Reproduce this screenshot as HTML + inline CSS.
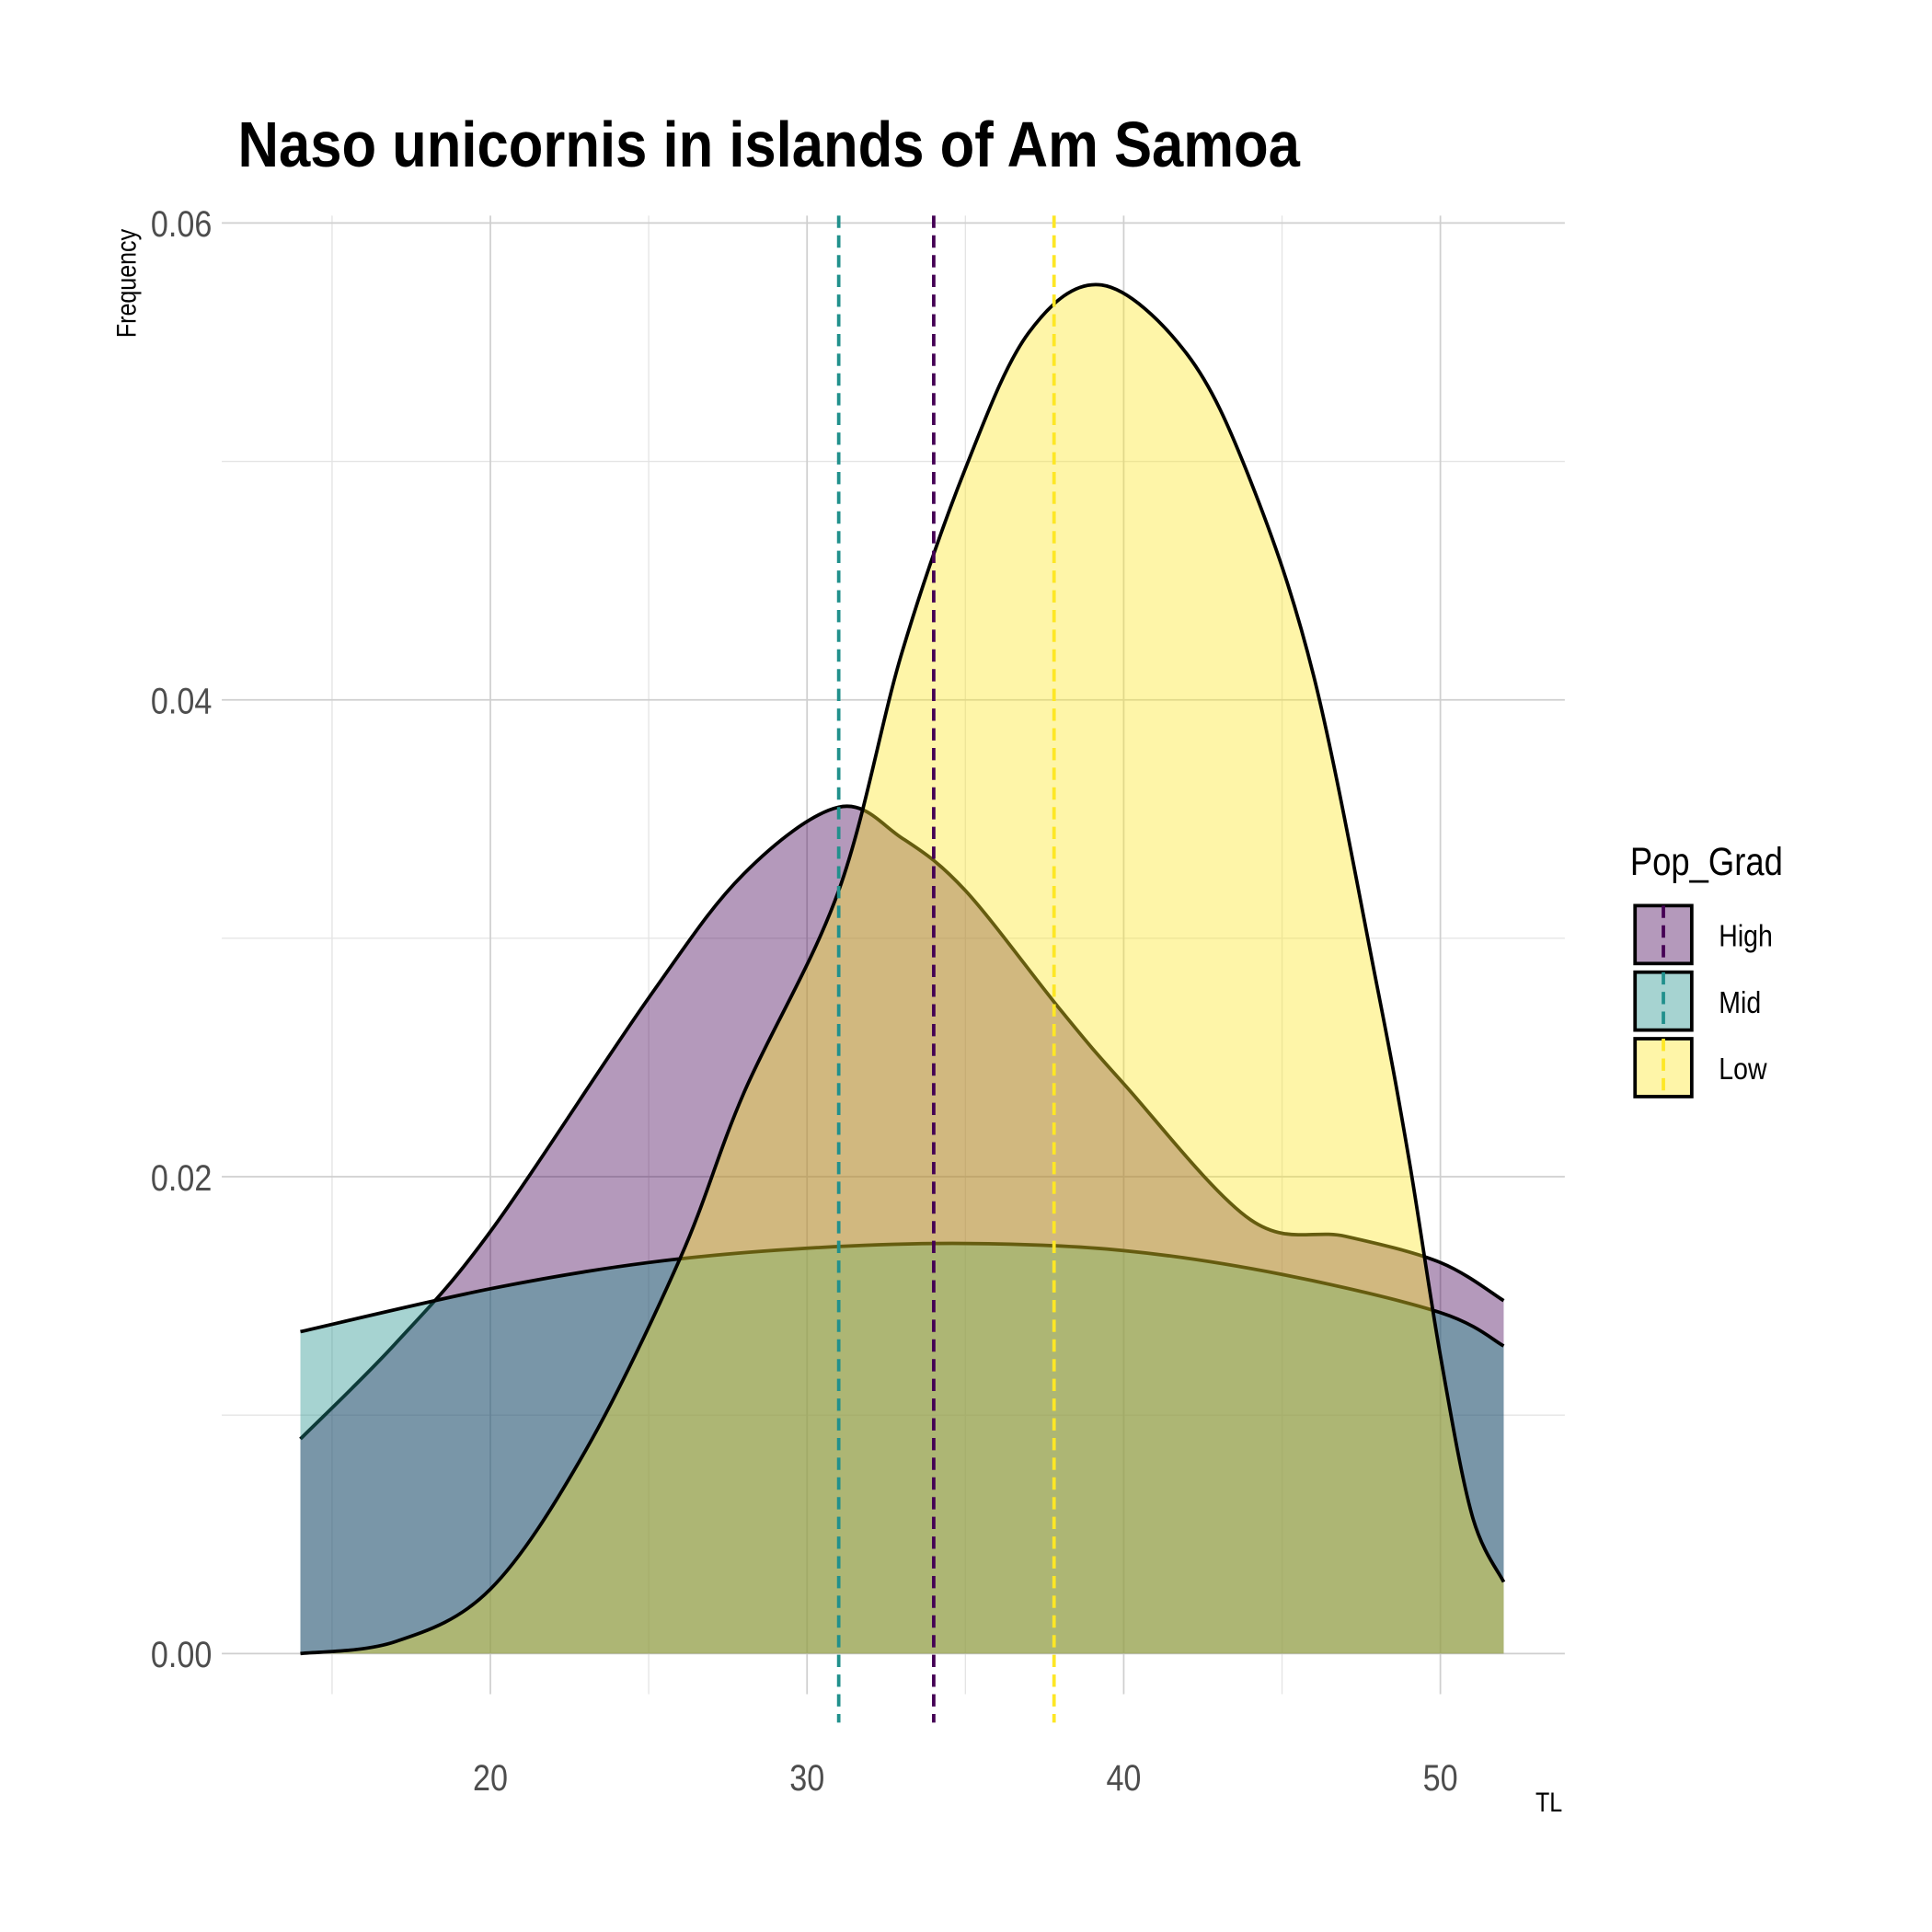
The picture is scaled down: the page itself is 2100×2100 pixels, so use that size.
<!DOCTYPE html>
<html><head><meta charset="utf-8"><style>
html,body{margin:0;padding:0;background:#fff}
svg{display:block}
text{font-family:"Liberation Sans Narrow","Liberation Sans",sans-serif}
</style></head><body>
<svg id="chart" width="2100" height="2100" viewBox="0 0 1568 1568" xmlns="http://www.w3.org/2000/svg">
<rect width="1568" height="1568" fill="#fff"/>
<g id="grid"></g>
<g id="areas"></g>
<g id="means"></g>
<g id="axes"></g>
<text x="193" y="135" font-size="52" font-weight="bold" fill="#000" textLength="862" lengthAdjust="spacingAndGlyphs">Naso unicornis in islands of Am Samoa</text>
<text transform="translate(110,230) rotate(-90) scale(0.85,1)" text-anchor="middle" font-size="22" fill="#000">Frequency</text>
<text transform="translate(1268,1470) scale(0.85,1)" text-anchor="end" font-size="22" fill="#000">TL</text>
<g id="legend">
<text transform="translate(1323,710) scale(0.85,1)" font-size="32" fill="#000">Pop_Grad</text>
</g>
</svg>
<script>
const groups = ["High","Mid","Low"];
const fills = ["#440154","#21908C","#FDE725"];
const highX = [14,17,20,25,28,31,33,35,38,40,44,47,50,52];
const highY = [0.0090,0.0130,0.0177,0.0275,0.0327,0.0355,0.0342,0.0320,0.0270,0.0239,0.0182,0.0175,0.0164,0.0148];
const midX = [14,20,25,30,35,40,45,50,52];
const midY = [0.0135,0.0153,0.0164,0.0170,0.0172,0.0169,0.0159,0.0143,0.0129];
const lowX = [14,17,20,23,26,28,31,33,35,37,39.3,42,44,46,48,49,50,51,52];
const lowY = [0,0.0005,0.0027,0.0085,0.0166,0.0235,0.032,0.042,0.0497,0.0554,0.0574,0.0545,0.0492,0.041,0.028,0.0208,0.0125,0.0058,0.003];
const means = [34.0,31.0,37.8];
const xTicks = [20,30,40,50];
const yTicks = [0,0.02,0.04,0.06];
const yTickLabels = ["0.00","0.02","0.04","0.06"];
const xMinor = [15,25,35,45];
const yMinor = [0.01,0.03,0.05];

const NS="http://www.w3.org/2000/svg";
const X = v => 398 + (v-20)*25.7;
const Y = v => 1342 - v*19350;
function mk(tag, attrs, parent){const e=document.createElementNS(NS,tag);for(const k in attrs)e.setAttribute(k,attrs[k]);parent.appendChild(e);return e;}
const grid=document.getElementById('grid'), axes=document.getElementById('axes');
const L=180,R=1270,T=175,B=1375;
xMinor.forEach(v=>{const l=mk('line',{x1:X(v),x2:X(v),y1:T,y2:B,stroke:'#e4e4e4','stroke-width':1},grid);
});
yMinor.forEach(v=>{const l=mk('line',{x1:L,x2:R,y1:Y(v),y2:Y(v),stroke:'#e4e4e4','stroke-width':1},grid);
});
xTicks.forEach(v=>{const l=mk('line',{x1:X(v),x2:X(v),y1:T,y2:B,stroke:'#cfcfcf','stroke-width':1.3},grid);

const t=mk('text',{transform:`translate(${X(v)},1453) scale(0.85,1)`,'text-anchor':'middle','font-size':30,fill:'#4d4d4d'},axes);t.textContent=v;
});
yTicks.forEach((v,i)=>{const l=mk('line',{x1:L,x2:R,y1:Y(v),y2:Y(v),stroke:'#cfcfcf','stroke-width':1.3},grid);

const t=mk('text',{transform:`translate(172,${Y(v)+11}) scale(0.85,1)`,'text-anchor':'end','font-size':30,fill:'#4d4d4d'},axes);t.textContent=yTickLabels[i];
});

function smooth(xs,ys){const p=xs.map((x,i)=>[X(x),Y(ys[i])]);let d=`M${p[0][0]},${p[0][1]}`;
for(let i=0;i<p.length-1;i++){const p0=p[i-1]||p[i],p1=p[i],p2=p[i+1],p3=p[i+2]||p2;
const c1=[p1[0]+(p2[0]-p0[0])/6,p1[1]+(p2[1]-p0[1])/6],c2=[p2[0]-(p3[0]-p1[0])/6,p2[1]-(p3[1]-p1[1])/6];
d+=` C${c1[0]},${c1[1]} ${c2[0]},${c2[1]} ${p2[0]},${p2[1]}`;}return d;}
const areas=document.getElementById('areas');
const series=[[highX,highY],[midX,midY],[lowX,lowY]];
series.forEach((s,i)=>{const line=smooth(s[0],s[1]);
const a=mk('path',{d:line+` L${X(s[0][s[0].length-1])},${Y(0)} L${X(s[0][0])},${Y(0)} Z`,fill:fills[i],'fill-opacity':0.4,stroke:'none'},areas);

const ln=mk('path',{d:line,fill:'none',stroke:'#000','stroke-width':2.8},areas);
});
const mg=document.getElementById('means');
means.forEach((m,i)=>{const l=mk('line',{x1:X(m),x2:X(m),y1:T,y2:1398,stroke:fills[i],'stroke-width':2.8,'stroke-dasharray':'10,6'},mg);
});
const lg=document.getElementById('legend');
groups.forEach((g,i)=>{const y=735+i*54;
const r=mk('rect',{x:1327,y:y,width:46,height:47,fill:fills[i],'fill-opacity':0.4,stroke:'#000','stroke-width':2.8},lg);

const l=mk('line',{x1:1350,x2:1350,y1:y,y2:y+47,stroke:fills[i],'stroke-width':2.8,'stroke-dasharray':'10,6'},lg);

const t=mk('text',{transform:`translate(1395,${y+33}) scale(0.85,1)`,'font-size':25,fill:'#000'},lg);t.textContent=g;
});
</script>
</body></html>
